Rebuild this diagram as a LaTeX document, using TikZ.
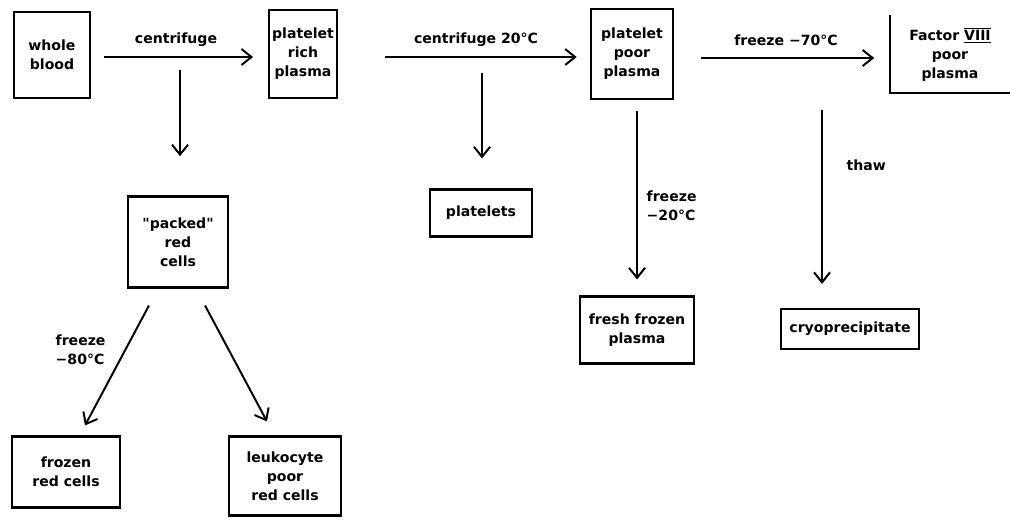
\documentclass[tikz,border=0pt]{standalone}
\usepackage{fontspec}
\setmainfont{DejaVu Sans}
\usetikzlibrary{arrows.meta,calc}

\tikzset{
  box/.style={draw, line width=1.5pt, align=center, inner sep=2pt,
    font=\bfseries\fontsize{10}{13.5}\selectfont},
  lbl/.style={align=left, inner sep=1pt, font=\bfseries\fontsize{10}{13.5}\selectfont},
  flow/.style={line width=1.4pt, -{Straight Barb[length=2.5mm,width=4mm]}}
}
\newcommand{\romanbar}[1]{$\overline{\underline{\mbox{#1}}}$}

\begin{document}
\begin{tikzpicture}[x=0.025cm, y=-0.025cm]
            \useasboundingbox (0,0) rectangle (1010,520);

            % horni rada
            \node[box, minimum width=1.9cm, minimum height=2.15cm] (whole) at (52,55) {whole\\blood};
            \node[box, minimum width=1.5cm, minimum height=2.2cm] (prp) at (303,54) {platelet\\rich\\plasma};
            \node[box, minimum width=2.05cm, minimum height=2.25cm] (ppp) at (632,54) {platelet\\poor\\plasma};
            \node[lbl, align=center, minimum width=2.975cm, minimum height=1.95cm] (factor) at (950,54) {Factor \romanbar{VIII}\\poor\\plasma};
            \draw[line width=1.5pt] (factor.north west) -- (factor.south west) -- (factor.south east);

            % produkty
            \node[box, minimum width=2.55cm, minimum height=1.175cm] (plt) at (481,213) {platelets};
            \node[box, minimum width=2.85cm, minimum height=1.675cm] (ffp) at (637,330) {fresh frozen\\plasma};
            \node[box, minimum width=3.45cm, minimum height=1.0cm] (cryo) at (850,329) {cryoprecipitate};
            \node[box, minimum width=2.5cm, minimum height=2.275cm] (packed) at (178,242) {\textquotedbl packed\textquotedbl\\red\\cells};
            \node[box, minimum width=2.7cm, minimum height=1.775cm] (frc) at (66,472) {frozen\\red cells};
            \node[box, minimum width=2.8cm, minimum height=1.975cm] (lprc) at (285,476) {leukocyte\\poor\\red cells};

            % popisky
            \node[lbl] (t1) at (176,40) {centrifuge};
            \node[lbl] (t2) at (476,40) {centrifuge 20°C};
            \node[lbl] (t3) at (786,40) {freeze −70°C};
            \node[lbl, anchor=west] (t4) at (645,206) {freeze\\−20°C};
            \node[lbl, anchor=west] (t5) at (845,165) {thaw};
            \node[lbl, anchor=west] (t6) at (54,350) {freeze\\−80°C};

            % sipky
            \coordinate (c1) at (180,70);
            \coordinate (c2) at (482,73);
            \coordinate (c3) at (822,110);
            \draw[flow, shorten <=0.33cm, shorten >=0.38cm] (whole.east |- 0,57) -- (prp.west |- 0,57);
            \draw[flow, shorten <=1.18cm, shorten >=0.33cm] (prp.east |- 0,57) -- (ppp.west |- 0,57);
            \draw[flow, shorten <=0.68cm, shorten >=0.4cm] (ppp.east |- 0,58) -- (factor.west |- 0,58);
            \draw[flow, shorten >=0.98cm] (c1) -- (c1 |- packed.north);
            \draw[flow, shorten >=0.75cm] (c2) -- (c2 |- plt.north);
            \draw[flow, shorten >=0.6cm] (c3) -- (c3 |- cryo.north);
            \draw[flow, shorten <=0.28cm, shorten >=0.4cm] (ppp.south -| ffp.north) -- (ffp.north);
            \draw[flow] ($(packed.south west)+(22,17)$) -- ($(frc.north)+(19,-10)$);
            \draw[flow] ($(packed.south east)+(-24,17)$) -- ($(lprc.north)+(-18,-14)$);

        \end{tikzpicture}
\end{document}
